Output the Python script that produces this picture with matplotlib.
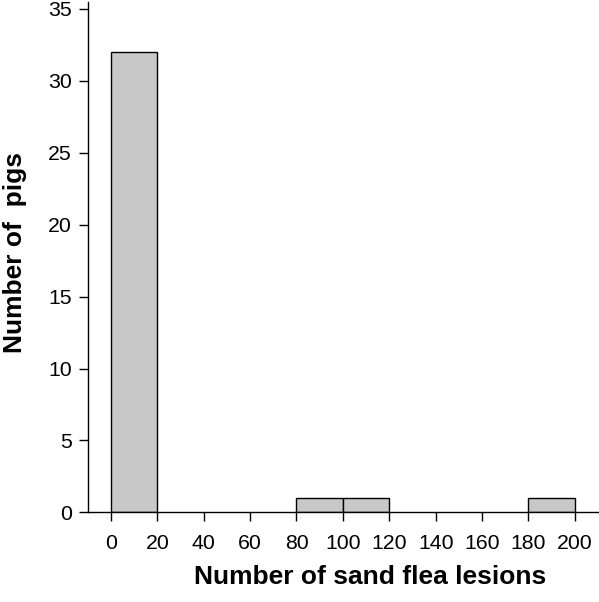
import matplotlib
matplotlib.use("Agg")
import matplotlib.pyplot as plt
import numpy as np

plt.rcParams['font.family'] = ['Liberation Sans', 'DejaVu Sans']

bin_edges = [0, 20, 40, 60, 80, 100, 120, 140, 160, 180, 200]
counts = [32, 0, 0, 0, 1, 1, 0, 0, 0, 1]
x_ticks = [0, 20, 40, 60, 80, 100, 120, 140, 160, 180, 200]
y_ticks = [0, 5, 10, 15, 20, 25, 30, 35]
xlabel = "Number of sand flea lesions"
ylabel = "Number of  pigs"

fig = plt.figure(figsize=(5.99, 6.02), dpi=100)
ax = fig.add_axes([0.1464, 0.149, 0.852, 0.848])

lefts = np.array(bin_edges[:-1])
widths = np.diff(bin_edges)
heights = np.array(counts)
mask = heights > 0
ax.bar(lefts[mask], heights[mask], width=widths[mask], align='edge',
       color='#c8c8c8', edgecolor='black', linewidth=1.0, zorder=2)

ax.set_xlim(-10, 210)
ax.set_ylim(0, 35.5)
ax.set_xticks(x_ticks)
ax.set_yticks(y_ticks)
ax.tick_params(axis='both', direction='out', length=6.5, width=1, labelsize=15.3, pad=5)
ax.tick_params(axis='x', pad=9)
for s in ['top', 'right']:
    ax.spines[s].set_visible(False)
for s in ['left', 'bottom']:
    ax.spines[s].set_linewidth(1)

fig.text(370/599, 1 - 577/602, xlabel, ha='center', va='center', fontsize=19, fontweight='bold')
fig.text(15/599, 1 - 252/602, ylabel, ha='center', va='center', rotation=90, fontsize=19, fontweight='bold')

fig.savefig('out.png', dpi=100)
